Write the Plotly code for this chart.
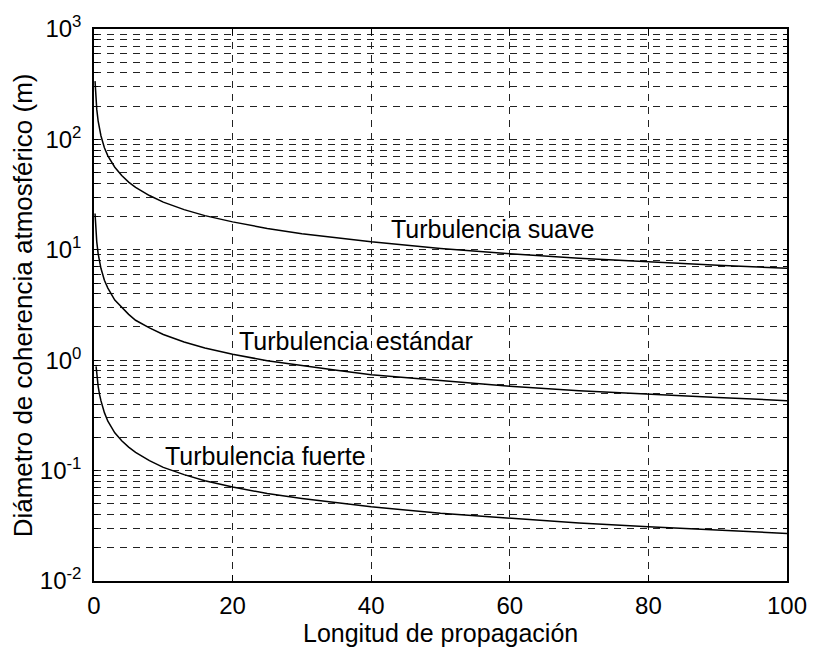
import math
import plotly.graph_objects as go

# ---- data ----
L_suave = [0.15, 0.25, 0.4, 0.6, 0.8, 1, 1.5, 2, 3, 4, 5, 6, 8, 10, 13, 16, 20, 25, 30, 35, 40, 50, 60, 70, 80, 90, 100]
suave = [337, 248, 187, 146, 123, 108, 84, 71, 56, 47, 41, 36.8, 31, 27, 23.1, 20.4, 17.9, 15.6, 14.0, 12.8, 11.8, 10.3, 9.2, 8.4, 7.75, 7.25, 6.8]

L_estandar = [0.15, 0.25, 0.4, 0.6, 0.8, 1, 1.5, 2, 3, 4, 5, 6, 8, 10, 13, 16, 20, 25, 30, 35, 40, 50, 60, 70, 80, 90, 100]
estandar = [21.3, 15.7, 11.8, 9.2, 7.8, 6.8, 5.3, 4.5, 3.5, 3.0, 2.6, 2.3, 1.96, 1.71, 1.46, 1.29, 1.13, 0.99, 0.89, 0.81, 0.74, 0.65, 0.58, 0.53, 0.49, 0.46, 0.43]

L_fuerte = [0.3, 0.4, 0.6, 0.8, 1, 1.5, 2, 3, 4, 5, 6, 8, 10, 13, 16, 20, 25, 30, 35, 40, 50, 60, 70, 80, 90, 100]
fuerte = [0.88, 0.74, 0.58, 0.49, 0.43, 0.335, 0.28, 0.22, 0.186, 0.163, 0.146, 0.123, 0.107, 0.092, 0.081, 0.071, 0.062, 0.056, 0.051, 0.047, 0.041, 0.037, 0.0335, 0.031, 0.0288, 0.027]

curve_labels = ["Turbulencia suave", "Turbulencia estándar", "Turbulencia fuerte"]
label_x = [42.6, 20.6, 9.9]
label_y = [15.5, 1.50, 0.137]

x_ticks = [0, 20, 40, 60, 80, 100]
decades = [-2, -1, 0, 1, 2, 3]

x_title = "Longitud de propagación"
y_title = "Diámetro de coherencia atmosférico (m)"

# ---- figure ----
FONT = "Liberation Sans, Arial, sans-serif"
fig = go.Figure()
for xs, ys in [(L_suave, suave), (L_estandar, estandar), (L_fuerte, fuerte)]:
    fig.add_trace(go.Scatter(x=xs, y=ys, mode="lines",
                             line=dict(color="black", width=1.5),
                             showlegend=False, hoverinfo="skip"))

y_tickvals, y_ticktext = [], []
for d in decades:
    for k in range(1, 10):
        if d == decades[-1] and k > 1:
            break
        y_tickvals.append(k * 10.0 ** d)
        y_ticktext.append(f"10<sup>{d}</sup>" if k == 1 else "")

for txt, lx, ly in zip(curve_labels, label_x, label_y):
    fig.add_annotation(x=lx, y=math.log10(ly), xref="x", yref="y",
                       text=txt, showarrow=False, xanchor="left", yanchor="middle",
                       font=dict(family=FONT, size=25, color="black"))

fig.add_annotation(x=0.5, y=-0.095, xref="paper", yref="paper", text=x_title,
                   showarrow=False, xanchor="center", yanchor="middle",
                   font=dict(family=FONT, size=25, color="black"))
fig.add_annotation(x=-0.102, y=0.5, xref="paper", yref="paper", text=y_title,
                   textangle=-90, showarrow=False, xanchor="center", yanchor="middle",
                   font=dict(family=FONT, size=26, color="black"))

grid_dash = "7px,6px"
fig.update_xaxes(range=[0, 100], tickvals=x_ticks, ticktext=[str(v) for v in x_ticks],
                 showgrid=True, gridcolor="#222", gridwidth=1, griddash=grid_dash,
                 showline=True, linecolor="black", linewidth=1.5, mirror="ticks",
                 ticks="inside", ticklen=6, tickcolor="black",
                 ticklabelstandoff=2, zeroline=False,
                 tickfont=dict(family=FONT, size=24, color="black"))
fig.update_yaxes(type="log", range=[-2, 3], tickvals=y_tickvals, ticktext=y_ticktext,
                 showgrid=True, gridcolor="#222", gridwidth=1, griddash=grid_dash,
                 showline=True, linecolor="black", linewidth=1.5, mirror="ticks",
                 ticks="inside", ticklen=4, tickcolor="black",
                 ticklabelstandoff=6, zeroline=False,
                 tickfont=dict(family=FONT, size=24, color="black"))

fig.update_layout(width=819, height=652,
                  margin=dict(l=94, r=25, t=24, b=71, pad=0),
                  plot_bgcolor="white", paper_bgcolor="white",
                  font=dict(family=FONT, color="black"))

fig.write_html("out.html")
